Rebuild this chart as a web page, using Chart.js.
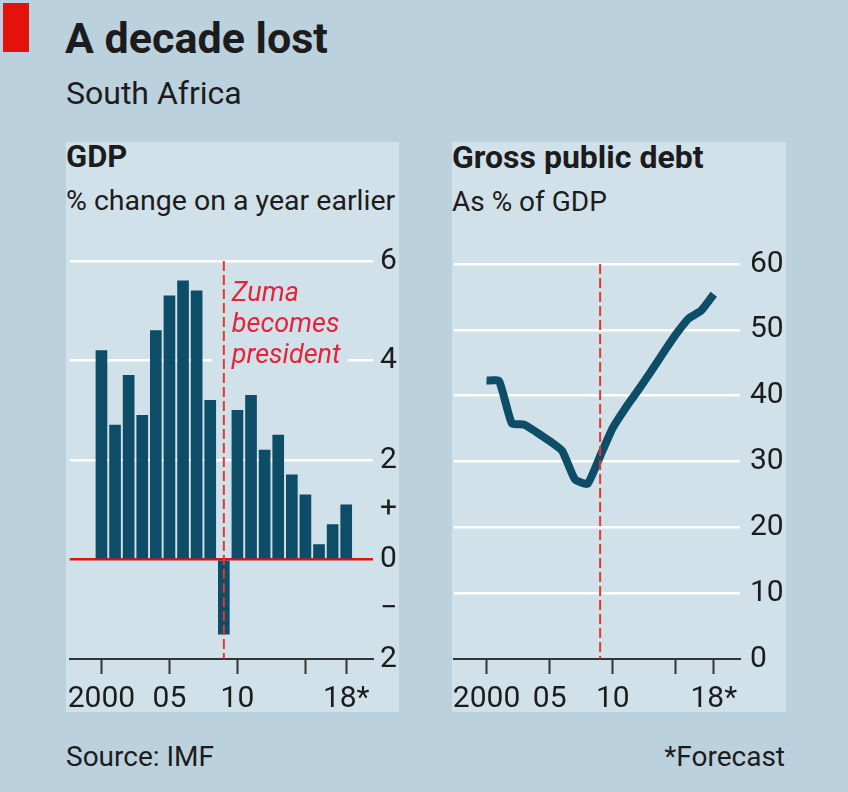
<!DOCTYPE html>
<html><head><meta charset="utf-8">
<script src="https://cdn.jsdelivr.net/npm/chart.js@4.4.1/dist/chart.umd.min.js"></script>
<style>
html,body{margin:0;padding:0}
body{width:848px;height:792px;background:#bbd1dd;position:relative;overflow:hidden;font-family:Roboto,sans-serif;color:#1c1c1c}
.abs{position:absolute;white-space:nowrap;line-height:1}
.panel{position:absolute;background:#d1e1e9}
canvas{position:absolute}
</style></head><body>
<div class="abs" style="left:3px;top:3px;width:26px;height:49px;background:#e3120b"></div>
<div class="abs" style="left:65px;top:17px;font-size:43px;font-weight:700">A decade lost</div>
<div class="abs" style="left:66px;top:77px;font-size:32px">South Africa</div>
<div class="panel" style="left:66px;top:142px;width:333px;height:570px"></div>
<div class="panel" style="left:452px;top:142px;width:334px;height:570px"></div>
<div class="abs" style="left:66px;top:141px;font-size:31px;font-weight:700">GDP</div>
<div class="abs" style="left:66px;top:187px;font-size:28.5px">% change on a year earlier</div>
<div class="abs" style="left:452px;top:141px;font-size:32px;font-weight:700">Gross public debt</div>
<div class="abs" style="left:452px;top:188px;font-size:28px">As % of GDP</div>
<canvas id="gdp" width="345" height="480" style="left:60px;top:236px"></canvas>
<canvas id="debt" width="345" height="480" style="left:445px;top:236px"></canvas>
<div class="abs" style="left:66px;top:743px;font-size:28px">Source: IMF</div>
<div class="abs" style="right:63px;top:743px;font-size:28px">*Forecast</div>
<script>
// ---- data ----
const years = [2000,2001,2002,2003,2004,2005,2006,2007,2008,2009,2010,2011,2012,2013,2014,2015,2016,2017,2018];
const gdpGrowth = [4.2,2.7,3.7,2.9,4.6,5.3,5.6,5.4,3.2,-1.5,3.0,3.3,2.2,2.5,1.7,1.3,0.3,0.7,1.1];
const debtRatio = [42.3,42.2,35.8,35.6,34.4,33.1,31.6,27.3,26.6,30.8,35.1,38.1,40.8,43.6,46.5,49.3,51.7,52.9,55.4];
const xTickYears = [2000,2005,2010,2015,2018];
const xTickLabels = ['2000','05','10','','18*'];
const gdpTickValues = [-2,-1,0,1,2,3,4,5,6];
const gdpTickLabels = ['2','\u2212','0','+','2','','4','','6'];
const debtTickValues = [0,10,20,30,40,50,60];
const debtTickLabels = ['0','10','20','30','40','50','60'];
const markerYear = 2009;
const zumaLines = ['Zuma','becomes','president'];

// ---- style ----
const ink = '#1c1c1c', red = '#e3120b', dashRed = '#e2382f', textRed = '#e5233a', blue = '#0e4d68', panel = '#d1e1e9';
const tickFont = {family:'Roboto', size:30};

const markerPlugin = {
  id:'marker',
  afterDatasetsDraw(chart, args, opts){
    const {ctx, chartArea, scales:{x}} = chart;
    const px = x.getPixelForValue(markerYear);
    ctx.save();
    let w = 0;
    if (opts.label) {
      ctx.font = 'italic 27px Roboto';
      w = Math.max(...opts.label.map(t=>ctx.measureText(t).width));
      ctx.fillStyle = panel;
      ctx.fillRect(px-12, chartArea.top+14, w+27, 98);
    }
    ctx.strokeStyle = dashRed; ctx.lineWidth = 2; ctx.setLineDash([10,4]);
    ctx.beginPath(); ctx.moveTo(px, chartArea.top); ctx.lineTo(px, chartArea.bottom); ctx.stroke();
    if (opts.label) {
      ctx.fillStyle = textRed; ctx.textBaseline = 'alphabetic'; ctx.textAlign = 'left';
      opts.label.forEach((t,i)=>ctx.fillText(t, px+8, chartArea.top+40+i*31));
    }
    ctx.restore();
  }
};

function xAxis(min, max){
  return {
    type:'linear', min, max, offset:false,
    afterBuildTicks: s => { s.ticks = xTickYears.map(v=>({value:v})); },
    afterFit: s => { s.height = 57; },
    ticks:{autoSkip:false, maxRotation:0, padding:7, color:ink, font:tickFont, callback:(v,i)=>xTickLabels[i]},
    grid:{display:true, drawOnChartArea:false, drawTicks:true, tickLength:15, tickWidth:2, tickColor:'#333', offset:false},
    border:{display:true, color:'#333', width:2}
  };
}

function yAxis(min, max, values, labels, width, pad, colorFn, widthFn){
  return {
    position:'right', min, max,
    afterBuildTicks: s => { s.ticks = values.map(v=>({value:v})); },
    afterFit: s => { s.width = width; },
    ticks:{autoSkip:false, padding:pad, color:ink, font:tickFont, callback:(v,i)=>labels[i]},
    grid:{drawTicks:false, color: c => colorFn(c.tick.value), lineWidth: c => widthFn(c.tick.value)},
    border:{display:false}
  };
}

new Chart(document.getElementById('gdp'), {
  type:'bar',
  data:{datasets:[{data: years.map((y,i)=>({x:y, y:gdpGrowth[i]})), backgroundColor:blue, barThickness:11, borderWidth:0}]},
  options:{
    responsive:false, animation:false, devicePixelRatio:1,
    layout:{padding:{left:7, top:22, right:0, bottom:0}},
    plugins:{legend:{display:false}, tooltip:{enabled:false}, marker:{label:zumaLines}},
    scales:{
      x: xAxis(1997.67, 2019.97),
      y: yAxis(-2, 6, gdpTickValues, gdpTickLabels, 32, 7,
        v => v === 0 ? red : ([2,4,6].includes(v) ? '#ffffff' : 'rgba(0,0,0,0)'),
        v => 2.5)
    }
  },
  plugins:[markerPlugin]
});

new Chart(document.getElementById('debt'), {
  type:'line',
  data:{datasets:[{data: years.map((y,i)=>({x:y, y:debtRatio[i]})), borderColor:blue, borderWidth:8, pointRadius:0, tension:0.15, borderJoinStyle:'round', borderCapStyle:'butt', fill:false}]},
  options:{
    responsive:false, animation:false, devicePixelRatio:1,
    layout:{padding:{left:7, top:22, right:0, bottom:0}},
    plugins:{legend:{display:false}, tooltip:{enabled:false}, marker:{}},
    scales:{
      x: xAxis(1997.4, 2020.08),
      y: yAxis(0, 60, debtTickValues, debtTickLabels, 50, 10,
        v => v === 0 ? 'rgba(0,0,0,0)' : '#ffffff',
        v => 2.5)
    }
  },
  plugins:[markerPlugin]
});
</script>
</body></html>
